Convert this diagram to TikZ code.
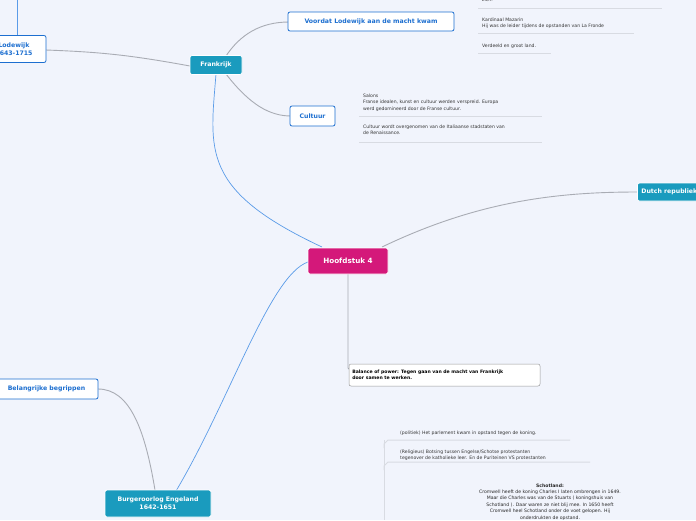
\documentclass[tikz,border=0pt]{standalone}
\usepackage{fontspec}
\setmainfont{DejaVu Sans}
\definecolor{bg}{HTML}{F1F4FC}
\definecolor{hub}{HTML}{D4187A}
\definecolor{teal}{HTML}{1A9BBE}
\definecolor{bluetxt}{HTML}{1D6FD0}
\definecolor{bluelink}{HTML}{5A9BE8}
\definecolor{greylink}{HTML}{A9ACB4}
\definecolor{uline}{HTML}{D8DBE2}
\tikzset{
  topic/.style={draw=white,fill=teal,text=white,font=\bfseries\fontsize{6.2}{7.8}\selectfont,rounded corners=2pt,align=center,inner sep=4pt,line width=.8pt},
  sub/.style={draw=bluetxt,fill=white,text=bluetxt,font=\bfseries\fontsize{6.2}{7.8}\selectfont,rounded corners=2pt,align=center,inner sep=4pt,line width=.8pt},
  note/.style={font=\fontsize{4.6}{6.2}\selectfont,text=black!80,align=left,anchor=north west,inner sep=0pt},
  under/.style={uline,line width=1pt},
  glink/.style={greylink,line width=.9pt},
  blink/.style={bluelink,line width=.7pt}
}
\begin{document}
\begin{tikzpicture}[x=1pt,y=-1pt]
\useasboundingbox (0,0) rectangle (696,520);
\clip (0,0) rectangle (696,520);
\fill[bg] (0,0) rectangle (696,520);

% connectors first
\coordinate (lodtop) at (17,0);
\coordinate (nt) at (384,440);
\coordinate (nb) at (384,520);
\draw[blink] (lodtop) -- (17,36);
\draw[blink] (322,247) .. controls (200,190) and (210,150) .. (216,74);
\draw[blink] (308,262) .. controls (270,275) and (230,400) .. (176,491);
\draw[glink] (382,247) .. controls (480,200) and (560,192) .. (638,192);
\draw[glink] (348,274) -- (348,368) -- (352,372);
\draw[glink] (190,66) .. controls (130,55) and (100,52) .. (46,50);
\draw[glink] (226,56) .. controls (240,35) and (260,22) .. (289,22);
\draw[glink] (226,74) .. controls (250,105) and (270,116) .. (291,116);
\draw[glink] (98,389) .. controls (130,389) and (145,430) .. (155,490);
\draw[under] (nt) -- (nb);
\draw[under] (384,448) -- (384,444) -- (388,440) -- (570,440);
\draw[under] (384,470) -- (384,466) -- (388,462) -- (590,462);

% nodes
\node[draw=white,fill=hub,text=white,font=\bfseries\fontsize{7.2}{9}\selectfont,rounded corners=2pt,minimum width=80pt,minimum height=26pt,line width=.8pt] (hoofd) at (348,261) {Hoofdstuk 4};
\node[topic,minimum width=52pt,minimum height=19pt] (frank) at (216,65) {Frankrijk};
\node[sub,minimum width=64pt,minimum height=27pt] (lode) at (14,49) {Lodewijk\\1643-1715};
\node[sub,minimum width=166pt,minimum height=19pt] (voor) at (371,21.5) {Voordat Lodewijk aan de macht kwam};
\node[sub,minimum width=45pt,minimum height=20pt] (cult) at (312.5,116) {Cultuur};
\node[topic,anchor=west,minimum height=18pt] (dutch) at (637,192) {Dutch republiek};
\node[draw=black!40,fill=white,rounded corners=2pt,minimum width=191pt,minimum height=22pt,line width=.5pt] (bal) at (444.5,375) {};
\node[font=\bfseries\fontsize{4.6}{6}\selectfont,align=left,anchor=west] (baltxt) at (bal.west) {Balance of power: Tegen gaan van de macht van Frankrijk\\door samen te werken.};
\node[sub,minimum width=103pt,minimum height=20pt] (begr) at (46.5,389) {Belangrijke begrippen};
\node[topic,minimum width=106pt,minimum height=27pt] (burger) at (158,503.5) {Burgeroorlog Engeland\\1642-1651};

% notes Voordat
\node[note] (n1) at (482,-2) {zich.};
\draw[under] (478,8) -- (662,8);
\node[note] (n2) at (482,18) {Kardinaal Mazarin\\Hij was de leider tijdens de opstanden van La Fronde};
\draw[under] (478,33) -- (634,33);
\node[note] (n3) at (482,44) {Verdeeld en groot land.};
\draw[under] (478,53) -- (551,53);
% notes Cultuur
\node[note] (n4) at (363,94) {Salons\\Franse idealen, kunst en cultuur werden verspreid. Europa\\werd gedomineerd door de Franse cultuur.};
\draw[under] (359,116) -- (542,116);
\node[note] (n5) at (363,125) {Cultuur wordt overgenomen van de Italiaanse stadstaten van\\de Renaissance.};
\draw[under] (359,142) -- (542,142);
% notes Burgeroorlog
\node[note] (n6) at (400,431) {(politiek) Het parlement kwam in opstand tegen de koning.};
\node[note] (n7) at (400,450) {(Religieus) Botsing tussen Engelse/Schotse protestanten\\tegenover de katholieke leer. En de Puriteinen VS protestanten};
\node[font=\fontsize{4.6}{6.4}\selectfont,text=black!85,align=center,anchor=north] (n8) at (550,480) {\textbf{Schotland:}\\Cromwell heeft de koning Charles I laten ombrengen in 1649.\\Maar die Charles was van de Stuarts ( koningshuis van\\Schotland ). Daar waren ze niet blij mee. In 1650 heeft\\Cromwell heel Schotland onder de voet gelopen. Hij\\onderdrukten de opstand.};
\end{tikzpicture}
\end{document}
